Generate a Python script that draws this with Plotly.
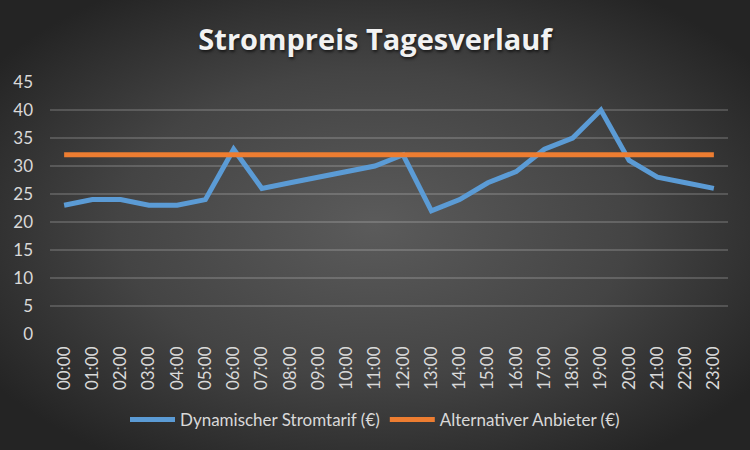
import base64
import plotly.graph_objects as go

hours = [f"{h:02d}:00" for h in range(24)]
dynamic = [23, 24, 24, 23, 23, 24, 33, 26, 27, 28, 29, 30, 32, 22, 24, 27, 29, 33, 35, 40, 31, 28, 27, 26]
alternative = [32] * 24
y_ticks = [0, 5, 10, 15, 20, 25, 30, 35, 40, 45]

W, H = 750, 450
ML, MR, MT, MB = 50, 22, 82, 116
PW, PH = W - ML - MR, H - MT - MB

svg = f'''<svg xmlns="http://www.w3.org/2000/svg" width="{W}" height="{H}" viewBox="0 0 {W} {H}" preserveAspectRatio="none">
<defs><radialGradient id="g" cx="50%" cy="50%" r="62%" gradientUnits="objectBoundingBox">
<stop offset="0%" stop-color="#5b5b5b"/><stop offset="55%" stop-color="#444444"/><stop offset="100%" stop-color="#242424"/>
</radialGradient></defs><rect width="{W}" height="{H}" fill="url(#g)"/></svg>'''
bg_src = "data:image/svg+xml;base64," + base64.b64encode(svg.encode()).decode()

fig = go.Figure()
fig.add_trace(go.Scatter(x=hours, y=dynamic, mode="lines", name="Dynamischer Stromtarif (€)",
                         line=dict(color="#5B9BD5", width=5)))
fig.add_trace(go.Scatter(x=hours, y=alternative, mode="lines", name="Alternativer Anbieter (€)",
                         line=dict(color="#ED7D31", width=5)))

tickfont = dict(family="Lato", size=17, color="#d9d9d9")
fig.update_layout(
    width=W, height=H,
    margin=dict(l=ML, r=MR, t=MT, b=MB),
    paper_bgcolor="#3a3a3a",
    plot_bgcolor="rgba(0,0,0,0)",
    title=dict(text="Strompreis Tagesverlauf", x=0.5, xanchor="center", y=1 - 40 / H, yanchor="middle",
               font=dict(family="Open Sans", size=29, weight="bold", color="#f2f2f2",
                         shadow="1px 2px 3px rgba(0,0,0,0.6)")),
    images=[dict(source=bg_src, xref="paper", yref="paper", x=-ML / PW, y=1 + MT / PH,
                 sizex=W / PW, sizey=H / PH, xanchor="left", yanchor="top",
                 sizing="stretch", layer="below")],
    xaxis=dict(type="category", range=[-0.5, 23.5], tickangle=-90, tickfont=tickfont,
               showgrid=False, zeroline=False, showline=False, ticks="", ticklabelstandoff=8),
    yaxis=dict(range=[0, 45], tickvals=y_ticks, tickfont=tickfont, showgrid=True,
               gridcolor="rgba(255,255,255,0.17)", gridwidth=1.5, zeroline=False,
               showline=False, ticks="", ticklabelstandoff=16),
    legend=dict(orientation="h", x=0.5, xref="container", xanchor="center", y=(H - 420) / H,
                yref="container", yanchor="middle",
                font=dict(family="Lato", size=17, color="#d9d9d9"),
                itemwidth=45, tracegroupgap=0, bgcolor="rgba(0,0,0,0)"),
    showlegend=True,
)

fig.write_html("out.html")
